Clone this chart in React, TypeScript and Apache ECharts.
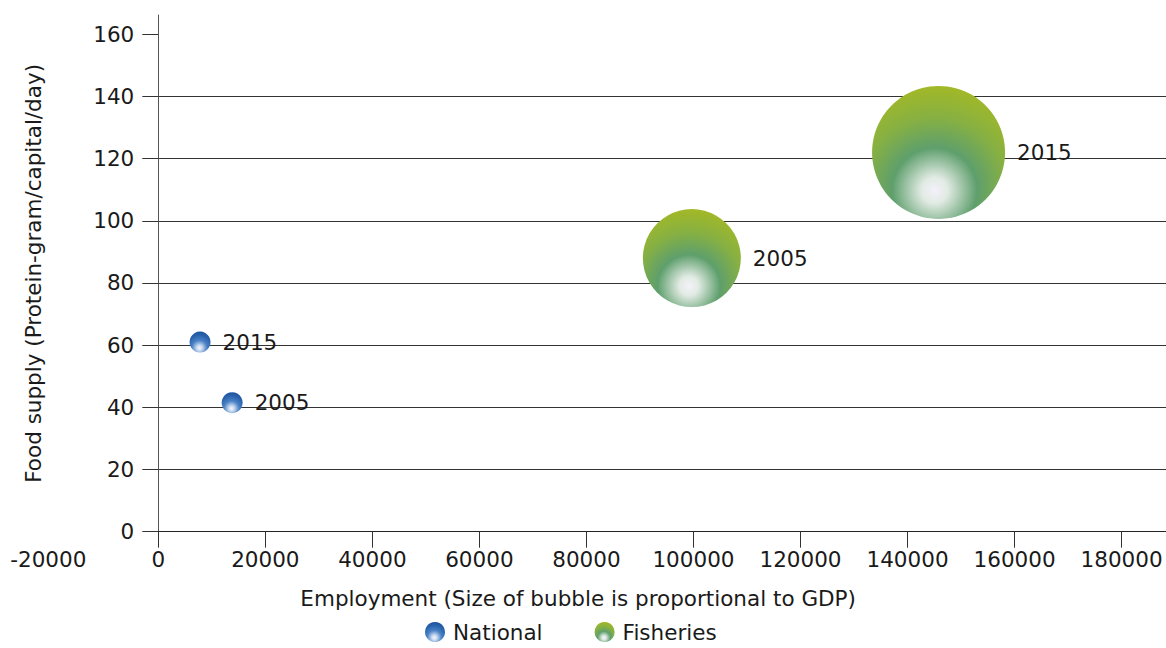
import React, { useEffect, useRef } from "react";
import * as echarts from "echarts";

// ---- data ----
const xTickValues = [-20000, 0, 20000, 40000, 60000, 80000, 100000, 120000, 140000, 160000, 180000];
const yTickValues = [0, 20, 40, 60, 80, 100, 120, 140, 160];

const nationalYears = ["2015", "2005"];
const nationalEmployment = [7800, 13800];
const nationalFoodSupply = [61, 41.5];
const nationalGdp = [21, 21];

const fisheriesYears = ["2005", "2015"];
const fisheriesEmployment = [99700, 145800];
const fisheriesFoodSupply = [88, 122];
const fisheriesGdp = [98, 133];

const FONT = "DejaVu Sans";
const FS = 21.5;
const TEXT = "#1a1a1a";
const LINE = "#333333";

const blueFill = {
  type: "radial",
  x: 0.47,
  y: 0.78,
  r: 0.8,
  colorStops: [
    { offset: 0, color: "#f4f5fb" },
    { offset: 0.15, color: "#cddcf0" },
    { offset: 0.45, color: "#4a82c6" },
    { offset: 0.75, color: "#2a62ae" },
    { offset: 1, color: "#1c529e" },
  ],
};

const greenFill = {
  type: "radial",
  x: 0.47,
  y: 0.785,
  r: 0.8,
  colorStops: [
    { offset: 0, color: "#f3f1fa" },
    { offset: 0.12, color: "#e2ebe4" },
    { offset: 0.4, color: "#5e9f6c" },
    { offset: 0.68, color: "#86b043" },
    { offset: 1, color: "#a4b925" },
  ],
};

const buildSeriesData = (xs: number[], ys: number[], gdp: number[], years: string[]) =>
  xs.map((x, i) => ({ value: [x, ys[i], gdp[i]], name: years[i] }));

export default function App() {
  const ref = useRef<HTMLDivElement>(null);

  useEffect(() => {
    if (!ref.current) return;
    const chart = echarts.init(ref.current, null, { renderer: "svg" });
    const inRange = xTickValues.filter((v) => v >= 0);
    const outRange = xTickValues.filter((v) => v < 0);

    const labelStyle = {
      show: true,
      position: "right",
      distance: 12,
      formatter: (p: any) => p.name,
      color: TEXT,
      fontSize: FS,
      fontFamily: FONT,
    };

    chart.setOption({
      animation: false,
      textStyle: { fontFamily: FONT },
      grid: { left: 158.3, right: 0, top: 15, bottom: 116.3, containLabel: false },
      xAxis: {
        type: "value",
        min: 0,
        max: 188300,
        interval: 20000,
        name: "Employment (Size of bubble is proportional to GDP)",
        nameLocation: "middle",
        nameGap: 56,
        nameTextStyle: { color: TEXT, fontSize: FS, fontFamily: FONT, padding: [0, 168, 0, 0] },
        axisLine: { show: true, lineStyle: { color: "#222", width: 1 } },
        axisTick: { show: true, length: 16, customValues: inRange, lineStyle: { color: LINE } },
        axisLabel: {
          customValues: inRange,
          margin: 17,
          color: TEXT,
          fontSize: FS,
          fontFamily: FONT,
          formatter: (v: number) => String(v),
        },
        splitLine: { show: false },
      },
      yAxis: {
        type: "value",
        min: 0,
        max: 166.2,
        interval: 20,
        name: "Food supply (Protein-gram/capital/day)",
        nameLocation: "middle",
        nameGap: 114,
        nameTextStyle: { color: TEXT, fontSize: FS, fontFamily: FONT },
        axisLine: { show: true, lineStyle: { color: "#555", width: 1 } },
        axisTick: { show: true, length: 16, customValues: yTickValues, lineStyle: { color: LINE } },
        axisLabel: {
          customValues: yTickValues,
          margin: 24,
          color: TEXT,
          fontSize: FS,
          fontFamily: FONT,
          formatter: (v: number) => String(v),
        },
        splitLine: { show: true, showMaxLine: false, lineStyle: { color: LINE, width: 1 } },
      },
      legend: {
        data: ["National", "Fisheries"],
        bottom: 0,
        left: 420,
        icon: "circle",
        itemWidth: 20,
        itemHeight: 20,
        itemGap: 52,
        textStyle: { color: TEXT, fontSize: FS, fontFamily: FONT, padding: [0, 0, 0, 3] },
      },
      series: [
        {
          name: "National",
          type: "scatter",
          data: buildSeriesData(nationalEmployment, nationalFoodSupply, nationalGdp, nationalYears),
          symbolSize: (v: number[]) => v[2],
          itemStyle: { color: blueFill, opacity: 1 },
          label: labelStyle,
          emphasis: { disabled: true },
        },
        {
          name: "Fisheries",
          type: "scatter",
          data: buildSeriesData(fisheriesEmployment, fisheriesFoodSupply, fisheriesGdp, fisheriesYears),
          symbolSize: (v: number[]) => v[2],
          itemStyle: { color: greenFill, opacity: 1 },
          label: labelStyle,
          emphasis: { disabled: true },
        },
      ],
    });

    // Tick label that lies left of the plotted range, placed with the axis scale
    const axisY = chart.convertToPixel({ yAxisIndex: 0 }, 0) as number;
    chart.setOption({
      graphic: outRange.map((v) => ({
        type: "text",
        x: (chart.convertToPixel({ xAxisIndex: 0 }, v) as number) - 3,
        y: axisY + 17,
        style: {
          text: String(v),
          align: "center",
          verticalAlign: "top",
          fill: TEXT,
          fontSize: FS,
          fontFamily: FONT,
        },
      })),
    });

    return () => chart.dispose();
  }, []);

  return (
    <div
      ref={ref}
      style={{ position: "fixed", left: 0, top: 0, width: 1166, height: 648, background: "#fff" }}
    />
  );
}
